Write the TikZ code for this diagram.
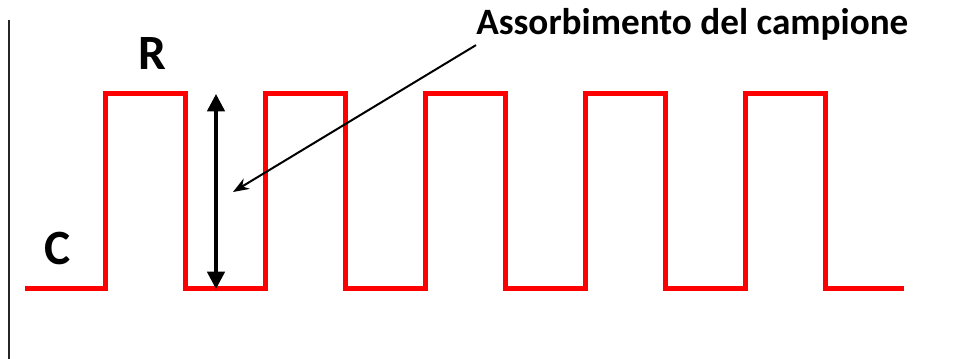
\documentclass[tikz,border=0pt]{standalone}
\usepackage{fontspec}
\setsansfont{Carlito}
\usetikzlibrary{arrows.meta,positioning}
\definecolor{signal}{HTML}{FF0000}

\begin{document}
\begin{tikzpicture}[x=0.75pt,y=-0.75pt,
    wave/.style={signal,line width=3.75pt,line join=miter},
    level/.style={font=\sffamily\bfseries\fontsize{37}{40}\selectfont,inner sep=0pt,anchor=base},
    pointer/.style={-{Stealth[length=12pt,width=9pt]},line width=1.5pt}]
  \useasboundingbox (0,0) rectangle (979,359);

  % axis on the left
  \draw[line width=1.1pt,black!85] (9,20) -- (9,359);

  % square wave: sample (R) and reference (C)
  \draw[wave] (25,289)
    \foreach \x in {105,265,425,585,745} {
      -- (\x,289) -- (\x,94) -- ({\x+80},94) -- ({\x+80},289)
    } -- (904,289);

  \node[level] (rlab) at (152,70) {R};
  \node[level] (clab) at (58,265) {C};

  % amplitude of the absorption
  \coordinate (top) at (216,94);
  \coordinate (bot) at (216,289);
  \draw[{Triangle[length=13pt,width=13pt]}-{Triangle[length=13pt,width=13pt]},line width=2.6pt] (top) -- (bot);

  \node[font=\sffamily\bfseries\fontsize{27.9}{32}\selectfont,inner sep=0pt,anchor=base west] (lbl) at (476,35) {Assorbimento del campione};
  \coordinate (tip) at (233,192);
  \draw[pointer] ([yshift=-3pt]lbl.south west) -- (tip);
\end{tikzpicture}
\end{document}
